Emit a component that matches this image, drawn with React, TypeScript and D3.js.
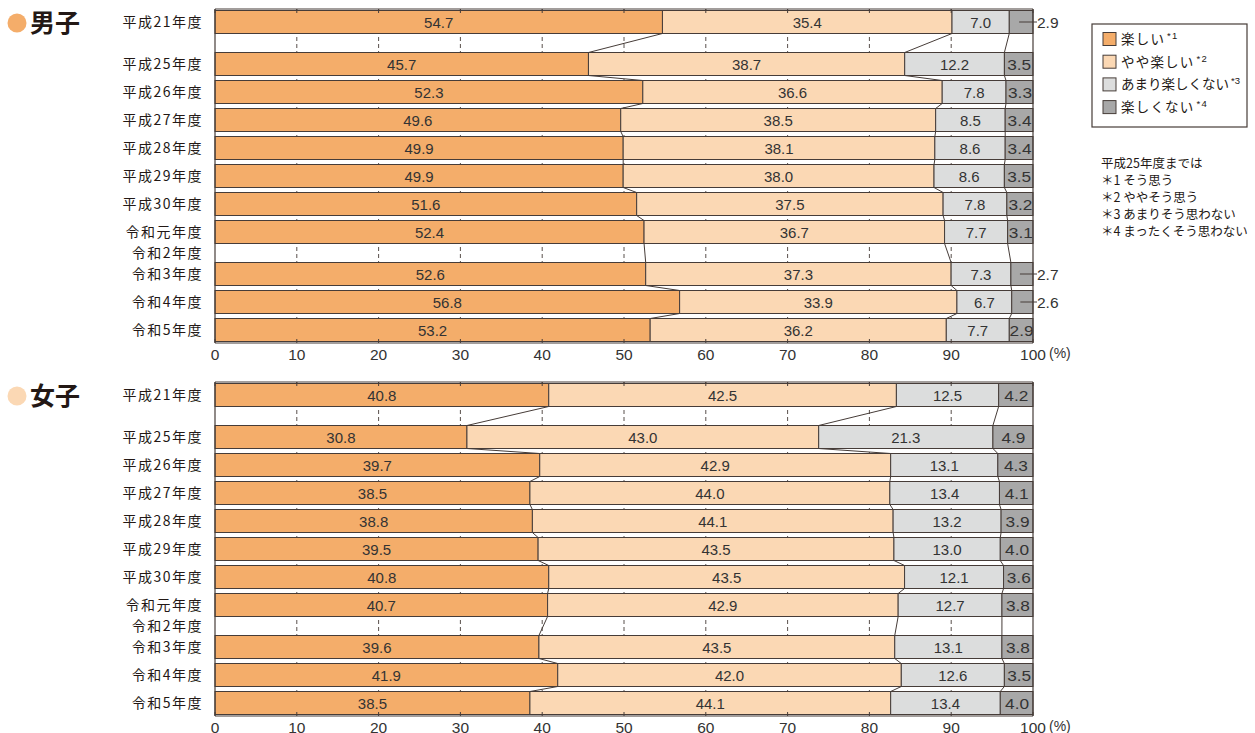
import { useEffect, useRef } from 'react';
import * as d3 from 'd3';

const years = ["平成21年度", "平成25年度", "平成26年度", "平成27年度", "平成28年度", "平成29年度", "平成30年度", "令和元年度", "令和2年度", "令和3年度", "令和4年度", "令和5年度"];
const categories = ["楽しい", "やや楽しい", "あまり楽しくない", "楽しくない"];
const categoryMarks = ["*1", "*2", "*3", "*4"];
const colors = ["#f4ad6a", "#fbd8b4", "#dcdddd", "#a8a8a8"];

// null = no survey (令和2年度)
const boys: (number[] | null)[] = [
  [54.7, 35.4, 7.0, 2.9],
  [45.7, 38.7, 12.2, 3.5],
  [52.3, 36.6, 7.8, 3.3],
  [49.6, 38.5, 8.5, 3.4],
  [49.9, 38.1, 8.6, 3.4],
  [49.9, 38.0, 8.6, 3.5],
  [51.6, 37.5, 7.8, 3.2],
  [52.4, 36.7, 7.7, 3.1],
  null,
  [52.6, 37.3, 7.3, 2.7],
  [56.8, 33.9, 6.7, 2.6],
  [53.2, 36.2, 7.7, 2.9],
];
const girls: (number[] | null)[] = [
  [40.8, 42.5, 12.5, 4.2],
  [30.8, 43.0, 21.3, 4.9],
  [39.7, 42.9, 13.1, 4.3],
  [38.5, 44.0, 13.4, 4.1],
  [38.8, 44.1, 13.2, 3.9],
  [39.5, 43.5, 13.0, 4.0],
  [40.8, 43.5, 12.1, 3.6],
  [40.7, 42.9, 12.7, 3.8],
  null,
  [39.6, 43.5, 13.1, 3.8],
  [41.9, 42.0, 12.6, 3.5],
  [38.5, 44.1, 13.4, 4.0],
];
// rows whose last value is written outside the bar
const boysOutside = ["平成21年度", "令和3年度", "令和4年度"];
const girlsOutside: string[] = [];

const xTicks = [0, 10, 20, 30, 40, 50, 60, 70, 80, 90, 100];
const notes = ["平成25年度までは", "＊1 そう思う", "＊2 ややそう思う", "＊3 あまりそう思わない", "＊4 まったくそう思わない"];

const JP = '"Noto Sans CJK JP", "Noto Sans", sans-serif';
const NUM = '"Liberation Sans", Arial, sans-serif';
const INK = "#463c38";

export default function App() {
  const svgRef = useRef<SVGSVGElement>(null);

  useEffect(() => {
    if (!svgRef.current) return;
    const svg = d3.select(svgRef.current);
    svg.selectAll("*").remove();

    const x = d3.scaleLinear().domain([0, 100]).range([215, 1033]);

    // slot positions: a wide gap after 平成21, a half-step around 令和2
    const pos: number[] = [];
    years.forEach((yr, i) => {
      if (i === 0) { pos.push(0); return; }
      const step = i === 1 ? 1.5 : (yr === "令和2年度" || years[i - 1] === "令和2年度") ? 0.75 : 1;
      pos.push(pos[i - 1] + step);
    });

    const barH = 23;

    function drawPanel(title: string, dot: string, data: (number[] | null)[], outside: string[], offset: number) {
      const y = d3.scaleLinear().domain([0, 11]).range([22 + offset, 330 + offset]);
      const g = svg.append("g");
      const top = y(0) - barH / 2 - 1.5;
      const bottom = y(11) + barH / 2 + 1.5;

      // title
      g.append("circle").attr("cx", 17).attr("cy", y(0) + 1).attr("r", 9.5).attr("fill", dot);
      g.append("text").attr("x", 30).attr("y", y(0) + 10).attr("font-family", JP).attr("font-weight", 700)
        .attr("font-size", 25).attr("fill", "#231815").text(title);

      // dashed grid
      g.selectAll(".grid").data(xTicks.slice(1, -1)).enter().append("line")
        .attr("x1", d => x(d)).attr("x2", d => x(d)).attr("y1", top).attr("y2", bottom)
        .attr("stroke", INK).attr("stroke-width", 0.9).attr("stroke-dasharray", "4,3");

      const rows = data.map((v, i) => {
        if (!v) return null;
        const total = d3.sum(v);
        const cum = [0];
        v.forEach(val => cum.push(cum[cum.length - 1] + (val / total) * 100));
        return { year: years[i], values: v, cum, cy: y(pos[i]) };
      });

      // bars
      rows.forEach(r => {
        if (!r) return;
        r.values.forEach((val, k) => {
          g.append("rect")
            .attr("x", x(r.cum[k])).attr("y", r.cy - barH / 2)
            .attr("width", x(r.cum[k + 1]) - x(r.cum[k])).attr("height", barH)
            .attr("fill", colors[k]).attr("stroke", INK).attr("stroke-width", 1);
          const isOut = k === 3 && outside.includes(r.year);
          const cx = (x(r.cum[k]) + x(r.cum[k + 1])) / 2;
          if (isOut) {
            g.append("line").attr("x1", cx - 2).attr("x2", x(100) + 4).attr("y1", r.cy).attr("y2", r.cy)
              .attr("stroke", INK).attr("stroke-width", 1);
            g.append("text").attr("x", x(100) + 4).attr("y", r.cy + 5.5).attr("font-family", NUM)
              .attr("font-size", 15.5).attr("fill", "#333").text(val.toFixed(1));
          } else {
            g.append("text").attr("x", cx + (k === 3 ? 0.5 : 0)).attr("y", r.cy + 5.5).attr("text-anchor", "middle")
              .attr("font-family", NUM).attr("font-size", k === 3 ? 14.5 : 15).attr("fill", "#333")
              .attr("textLength", k === 3 ? 24 : null as any).attr("lengthAdjust", "spacingAndGlyphs")
              .text(val.toFixed(1));
          }
        });
      });

      // connector lines between consecutive bars
      const real = rows.filter(r => r) as NonNullable<typeof rows[number]>[];
      for (let i = 1; i < real.length; i++) {
        const a = real[i - 1], b = real[i];
        for (let k = 1; k <= 3; k++) {
          g.append("line")
            .attr("x1", x(a.cum[k])).attr("y1", a.cy + barH / 2)
            .attr("x2", x(b.cum[k])).attr("y2", b.cy - barH / 2)
            .attr("stroke", INK).attr("stroke-width", 1);
        }
      }

      // frame
      g.append("line").attr("x1", x(0)).attr("x2", x(100)).attr("y1", top).attr("y2", top).attr("stroke", INK).attr("stroke-width", 1.2);
      g.append("line").attr("x1", x(0)).attr("x2", x(100)).attr("y1", bottom).attr("y2", bottom).attr("stroke", INK).attr("stroke-width", 1.2);
      g.append("line").attr("x1", x(0)).attr("x2", x(0)).attr("y1", top).attr("y2", bottom).attr("stroke", INK).attr("stroke-width", 1.2);
      g.append("line").attr("x1", x(100)).attr("x2", x(100)).attr("y1", top).attr("y2", bottom).attr("stroke", INK).attr("stroke-width", 1.2);
      g.selectAll(".tt").data(xTicks).enter().append("line")
        .attr("x1", d => x(d)).attr("x2", d => x(d)).attr("y1", top).attr("y2", top + 4).attr("stroke", INK);
      g.selectAll(".bt").data(xTicks).enter().append("line")
        .attr("x1", d => x(d)).attr("x2", d => x(d)).attr("y1", bottom).attr("y2", bottom - 4).attr("stroke", INK);

      // tick labels
      g.selectAll(".tl").data(xTicks).enter().append("text")
        .attr("x", d => x(d)).attr("y", bottom + 16.5).attr("text-anchor", "middle")
        .attr("font-family", NUM).attr("font-size", 15.5).attr("fill", "#333").text(d => String(d));
      g.append("text").attr("x", x(100) + 16).attr("y", bottom + 14.5).attr("font-family", NUM)
        .attr("font-size", 14).attr("fill", "#333").text("(%)");

      // row labels
      years.forEach((yr, i) => {
        g.append("text").attr("x", 203).attr("y", y(pos[i]) + 5).attr("text-anchor", "end")
          .attr("font-family", JP).attr("font-size", 14).attr("letter-spacing", 1.5)
          .attr("fill", "#231815").text(yr);
      });
    }

    drawPanel("男子", "#f4ad6a", boys, boysOutside, 0);
    drawPanel("女子", "#fbd8b4", girls, girlsOutside, 373);

    // legend
    const lg = svg.append("g");
    lg.append("rect").attr("x", 1092).attr("y", 24).attr("width", 155).attr("height", 103)
      .attr("fill", "white").attr("stroke", INK).attr("stroke-width", 1.2);
    categories.forEach((c, i) => {
      const ly = 39 + i * 22.7;
      lg.append("rect").attr("x", 1103).attr("y", ly - 6.5).attr("width", 13).attr("height", 13)
        .attr("fill", colors[i]).attr("stroke", INK).attr("stroke-width", 1);
      const t = lg.append("text").attr("x", 1121).attr("y", ly + 5).attr("font-family", JP)
        .attr("font-size", 13.5).attr("letter-spacing", i === 2 ? 0 : 1.2).attr("fill", "#231815");
      t.append("tspan").text(c);
      t.append("tspan").attr("font-family", NUM).attr("font-size", 9.5).attr("dx", 2).attr("dy", -5).text(categoryMarks[i]);
    });

    // notes
    notes.forEach((n, i) => {
      svg.append("text").attr("x", 1101).attr("y", 168 + i * 17).attr("font-family", JP)
        .attr("font-size", 12.5).attr("fill", "#231815").text(n);
    });
  }, []);

  return <svg ref={svgRef} width={1255} height={733} style={{ position: 'absolute', left: 0, top: 0, background: 'white' }}></svg>;
}
